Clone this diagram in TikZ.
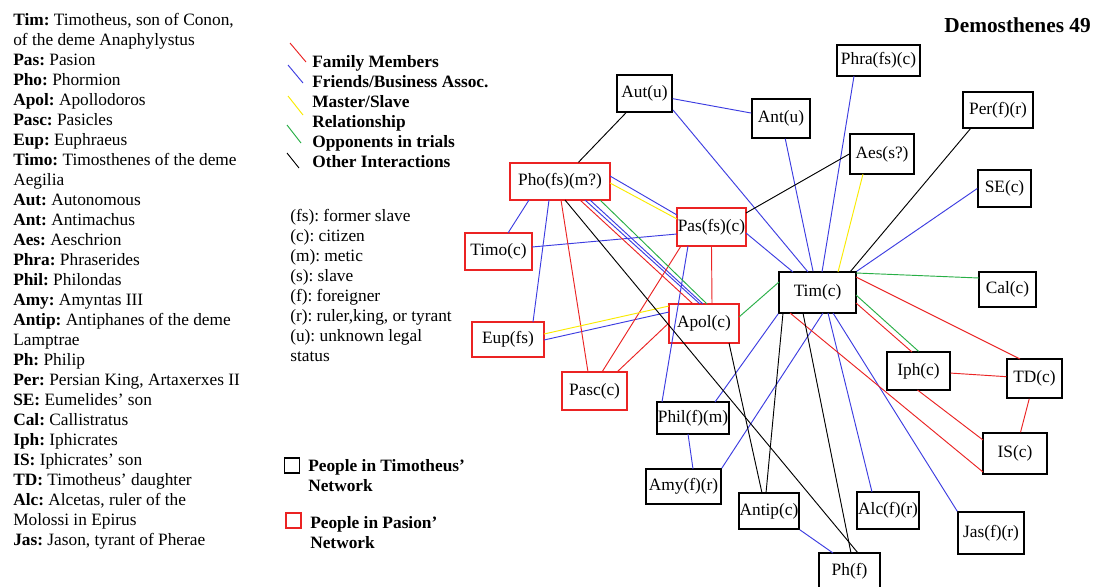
\documentclass[tikz,border=0pt]{standalone}
\usepackage{fontspec}
\setmainfont{Liberation Serif}
\usetikzlibrary{calc}

\definecolor{famRed}{RGB}{235,35,35}
\definecolor{friendBlue}{RGB}{60,60,225}
\definecolor{slaveYellow}{RGB}{250,235,0}
\definecolor{trialGreen}{RGB}{40,175,70}

\begin{document}
\frenchspacing
\fontsize{13}{15}\selectfont
\begin{tikzpicture}[x = 0.75pt, y = -0.75pt]
	\tikzstyle{timStyle} = [shape = rectangle, draw = black, line width = 1.1pt, inner sep = 0pt]
	\tikzstyle{pasStyle} = [shape = rectangle, draw = famRed, line width = 1.1pt, inner sep = 0pt]
	\tikzstyle{textStyle} = [anchor = north west, align = left, inner sep = 0pt]
	\tikzstyle{famEdge} = [draw = famRed, line width = 0.7pt]
	\tikzstyle{friendEdge} = [draw = friendBlue, line width = 0.7pt]
	\tikzstyle{slaveEdge} = [draw = slaveYellow, line width = 0.7pt]
	\tikzstyle{trialEdge} = [draw = trialGreen, line width = 0.7pt]
	\tikzstyle{otherEdge} = [draw = black, line width = 0.7pt]
	\useasboundingbox[fill = white] (0,0) rectangle (1099,586);

	% abbreviations
	\node[textStyle] (names) at (13,13) {\textbf{Tim:} Timotheus, son of Conon,\\
		of the deme Anaphylystus\\
		\textbf{Pas:} Pasion\\
		\textbf{Pho:} Phormion\\
		\textbf{Apol:} Apollodoros\\
		\textbf{Pasc:} Pasicles\\
		\textbf{Eup:} Euphraeus\\
		\textbf{Timo:} Timosthenes of the deme\\
		Aegilia\\
		\textbf{Aut:} Autonomous\\
		\textbf{Ant:} Antimachus\\
		\textbf{Aes:} Aeschrion\\
		\textbf{Phra:} Phraserides\\
		\textbf{Phil:} Philondas\\
		\textbf{Amy:} Amyntas III\\
		\textbf{Antip:} Antiphanes of the deme\\
		Lamptrae\\
		\textbf{Ph:} Philip\\
		\textbf{Per:} Persian King, Artaxerxes II\\
		\textbf{SE:} Eumelides' son\\
		\textbf{Cal:} Callistratus\\
		\textbf{Iph:} Iphicrates\\
		\textbf{IS:} Iphicrates' son\\
		\textbf{TD:} Timotheus' daughter\\
		\textbf{Alc:} Alcetas, ruler of the\\
		Molossi in Epirus\\
		\textbf{Jas:} Jason, tyrant of Pherae};

	% legend
	\draw[famEdge] (290,43) -- (306,62);
	\draw[friendEdge] (288,65) -- (303,83);
	\draw[slaveEdge] (288,96) -- (303,115);
	\draw[trialEdge] (287,125) -- (301,143);
	\draw[otherEdge] (287,153) -- (299,168);
	\node[textStyle, font = \bfseries] (edgeKey) at (312,55) {Family Members\\Friends/Business Assoc.\\Master/Slave\\Relationship\\Opponents in trials\\Other Interactions};
	\node[textStyle] (statusKey) at (290,209) {(fs): former slave\\(c): citizen\\(m): metic\\(s): slave\\(f): foreigner\\(r): ruler,king, or tyrant\\(u): unknown legal\\status};
	\node[timStyle, minimum size = 11.25pt] (timKey) at (292,465.5) {};
	\node[pasStyle, minimum size = 11.25pt] (pasKey) at (293.5,520.5) {};
	\node[textStyle, font = \bfseries] (timKeyText) at (308,459) {People in Timotheus'\\Network};
	\node[textStyle, font = \bfseries] (pasKeyText) at (310,516) {People in Pasion'\\Network};
	\node[anchor = east, inner sep = 0pt, font = \bfseries\fontsize{16}{19}\selectfont] (title) at (1091,25) {Demosthenes 49};

	% people
	\node[timStyle, minimum width = 41.25pt, minimum height = 27.75pt] (aut) at (644.5,93.5) {Aut(u)};
	\node[timStyle, minimum width = 43.5pt, minimum height = 29.25pt] (ant) at (781,118.5) {Ant(u)};
	\node[timStyle, minimum width = 62.25pt, minimum height = 23.25pt] (phra) at (878.5,60.5) {Phra(fs)(c)};
	\node[timStyle, minimum width = 52.5pt, minimum height = 27pt] (per) at (998,110) {Per(f)(r)};
	\node[timStyle, minimum width = 48pt, minimum height = 30pt] (aes) at (882,154) {Aes(s?)};
	\node[timStyle, minimum width = 39.75pt, minimum height = 27.75pt] (se) at (1004.5,188.5) {SE(c)};
	\node[timStyle, minimum width = 57.75pt, minimum height = 30.75pt] (tim) at (817.5,292.5) {Tim(c)};
	\node[timStyle, minimum width = 42.75pt, minimum height = 26.25pt] (cal) at (1007.5,289.5) {Cal(c)};
	\node[pasStyle, minimum width = 75pt, minimum height = 27.75pt] (pho) at (560,181.5) {Pho(fs)(m?)};
	\node[pasStyle, minimum width = 51.75pt, minimum height = 28.5pt] (pas) at (711.5,227) {Pas(fs)(c)};
	\node[pasStyle, minimum width = 50.25pt, minimum height = 27.75pt] (timo) at (498.5,251.5) {Timo(c)};
	\node[pasStyle, minimum width = 52.5pt, minimum height = 29.25pt] (apol) at (704,323.5) {Apol(c)};
	\node[pasStyle, minimum width = 54pt, minimum height = 26.25pt] (eup) at (508,339.5) {Eup(fs)};
	\node[pasStyle, minimum width = 48.75pt, minimum height = 28.5pt] (pasc) at (594.5,391) {Pasc(c)};
	\node[timStyle, minimum width = 54pt, minimum height = 24pt] (phil) at (693,418) {Phil(f)(m)};
	\node[timStyle, minimum width = 47.25pt, minimum height = 28.5pt] (iph) at (918.5,371) {Iph(c)};
	\node[timStyle, minimum width = 41.25pt, minimum height = 29.25pt] (td) at (1034.5,378.5) {TD(c)};
	\node[timStyle, minimum width = 48pt, minimum height = 30.75pt] (is) at (1015,453.5) {IS(c)};
	\node[timStyle, minimum width = 56.25pt, minimum height = 26.25pt] (amy) at (683.5,486.5) {Amy(f)(r)};
	\node[timStyle, minimum width = 45pt, minimum height = 27pt] (antip) at (769,511) {Antip(c)};
	\node[timStyle, minimum width = 46.5pt, minimum height = 27.75pt] (alc) at (888,510.5) {Alc(f)(r)};
	\node[timStyle, minimum width = 49.5pt, minimum height = 31.5pt] (jas) at (991,533) {Jas(f)(r)};
	\node[timStyle, minimum width = 45.75pt, minimum height = 27pt] (ph) at (849.5,571) {Ph(f)};

	% friends / business
	\draw[friendEdge] (aut) -- (ant);
	\draw[friendEdge] ($(aut)+(28.5,16.5)$) -- ($(tim)+(-9.5,-20.5)$);
	\draw[friendEdge] (ant) -- (tim);
	\draw[friendEdge] ($(phra)+(-24.5,15.5)$) -- ($(tim)+(4.5,-20.5)$);
	\draw[friendEdge] (se.west) -- (tim.north east);
	\draw[friendEdge] ($(pho)+(50,-5.5)$) -- ($(pas)+(-34.5,-12)$);
	\draw[friendEdge] ($(pho)+(-31,18.5)$) -- ($(timo)+(9.5,-18.5)$);
	\draw[friendEdge] ($(pho)+(-11,18.5)$) -- ($(eup)+(25,-17.5)$);
	\draw[friendEdge] ($(pho)+(25,18.5)$) -- ($(apol)+(-4,-19.5)$);
	\draw[friendEdge] ($(pho)+(30,18.5)$) -- ($(apol)+(-1,-19.5)$);
	\draw[friendEdge] ($(pas)+(-34.5,7)$) -- ($(timo)+(33.5,-4.5)$);
	\draw[friendEdge] ($(pas)+(34.5,6)$) -- ($(tim)+(-24.5,-20.5)$);
	\draw[friendEdge] ($(pas)+(-23.5,19)$) -- ($(phil)+(-31,-16)$);
	\draw[friendEdge] ($(eup)+(36,0.5)$) -- ($(apol)+(-35,-11.5)$);
	\draw[friendEdge] (tim.south west) -- ($(phil)+(22,-16)$);
	\draw[friendEdge] ($(tim)+(5.5,20.5)$) -- (amy.north east);
	\draw[friendEdge] ($(tim)+(10.5,20.5)$) -- ($(alc)+(-16,-18.5)$);
	\draw[friendEdge] ($(tim)+(15.5,20.5)$) -- (jas.north west);
	\draw[friendEdge] ($(phil)+(-5,16)$) -- ($(amy)+(9.5,-17.5)$);
	\draw[friendEdge] (antip.south east) -- ($(ph)+(-16.5,-18)$);

	% family
	\draw[famEdge] ($(pho)+(20,18.5)$) -- ($(apol)+(-11,-19.5)$);
	\draw[famEdge] ($(pho)+(1,18.5)$) -- ($(pasc)+(-6.5,-19)$);
	\draw[famEdge] (pas.south) -- ($(apol)+(8,-19.5)$);
	\draw[famEdge] ($(pas)+(-30.5,19)$) -- ($(pasc)+(7.5,-19)$);
	\draw[famEdge] (apol.west) -- ($(pasc)+(22.5,-19)$);
	\draw[famEdge] ($(tim)+(38.5,10.5)$) -- ($(iph)+(-6.5,-19)$);
	\draw[famEdge] ($(tim)+(38.5,-15.5)$) -- ($(td)+(-14.5,-19.5)$);
	\draw[famEdge] ($(tim)+(-27.5,20.5)$) -- ($(is)+(-32,18.5)$);
	\draw[famEdge] (iph) -- (td);
	\draw[famEdge] ($(iph)+(-1,19)$) -- ($(is)+(-32,-13.5)$);
	\draw[famEdge] (td) -- (is);

	% master / slave
	\draw[slaveEdge] ($(pho)+(50,1.5)$) -- ($(pas)+(-34.5,-8)$);
	\draw[slaveEdge] ($(eup)+(36,-5.5)$) -- ($(apol)+(-35,-17.5)$);
	\draw[slaveEdge] ($(aes)+(-19,20)$) -- ($(tim)+(20.5,-20.5)$);

	% trials
	\draw[trialEdge] ($(pho)+(40,18.5)$) -- ($(apol)+(3,-19.5)$);
	\draw[trialEdge] ($(apol)+(35,-6.5)$) -- ($(tim)+(-38.5,-10.5)$);
	\draw[trialEdge] ($(tim)+(38.5,-19.5)$) -- ($(cal)+(-28.5,-11.5)$);
	\draw[trialEdge] ($(tim)+(38.5,2.5)$) -- (iph.north);

	% other
	\draw[otherEdge] (aut) -- (pho);
	\draw[otherEdge] ($(pas)+(34.5,-14)$) -- (aes.west);
	\draw[otherEdge] ($(per)+(-27,18)$) -- ($(tim)+(32.5,-20.5)$);
	\draw[otherEdge] ($(pho)+(5,18.5)$) -- ($(ph)+(8.5,-18)$);
	\draw[otherEdge] ($(apol)+(25,19.5)$) -- ($(antip)+(-7,-18)$);
	\draw[otherEdge] ($(tim)+(-34.5,20.5)$) -- ($(antip)+(-3,-18)$);
	\draw[otherEdge] ($(tim)+(-14.5,20.5)$) -- ($(ph)+(1.5,-18)$);
\end{tikzpicture}
\end{document}
